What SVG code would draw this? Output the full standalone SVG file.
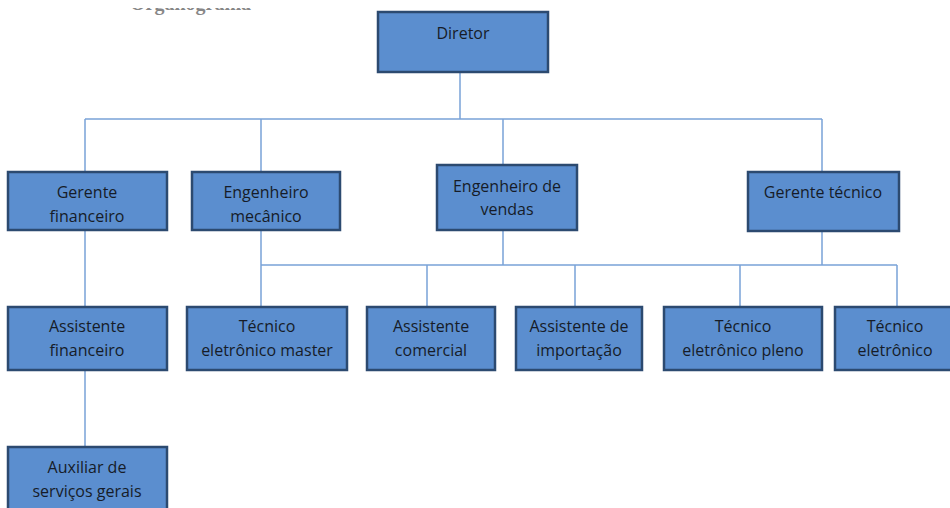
<svg xmlns="http://www.w3.org/2000/svg" width="950" height="508" viewBox="0 0 950 508">
<style>
.box{fill:#5b8ecf;stroke:#2c4a70;stroke-width:2.5}
.t{font-family:"Open Sans","Liberation Sans",Arial,sans-serif;font-size:16px;fill:#161c28;text-anchor:middle}
.c{fill:none;stroke:#7aa3d8;stroke-width:1.5}
</style>
<defs>
<clipPath id="clipTitle"><rect x="100" y="8" width="200" height="12"/></clipPath>
</defs>
<rect width="950" height="508" fill="#ffffff"/>
<text x="130" y="10" clip-path="url(#clipTitle)" font-family="Liberation Serif,serif" font-weight="bold" font-size="20" fill="#555" opacity="0.7">Organograma</text>
<g id="connectors">
<path class="c" d="M460 72V119M85 119H822M85 119V172M261 119V172M503 119V165M822 119V172"/>
<path class="c" d="M85 230V307M85 370V447"/>
<path class="c" d="M261 230V307M261 265H897M503 230V265M822 231V265M427 265V307M575 265V307M740 265V307M897 265V307"/>
</g>
<g id="diretor"><rect class="box" x="378" y="12" width="170" height="60"/><text class="t" x="463" y="39">Diretor</text></g>
<g id="gerente-financeiro"><rect class="box" x="8" y="172" width="159" height="58"/><text class="t" x="87" y="198">Gerente</text><text class="t" x="87" y="222">financeiro</text></g>
<g id="engenheiro-mecanico"><rect class="box" x="192" y="172" width="148" height="58"/><text class="t" x="266" y="198">Engenheiro</text><text class="t" x="266" y="222">mecânico</text></g>
<g id="engenheiro-vendas"><rect class="box" x="437" y="165" width="140" height="65"/><text class="t" x="507" y="192">Engenheiro de</text><text class="t" x="507" y="215">vendas</text></g>
<g id="gerente-tecnico"><rect class="box" x="748" y="172" width="151" height="59"/><text class="t" x="823" y="198">Gerente técnico</text></g>
<g id="assistente-financeiro"><rect class="box" x="8" y="307" width="159" height="63"/><text class="t" x="87" y="332">Assistente</text><text class="t" x="87" y="356">financeiro</text></g>
<g id="tecnico-master"><rect class="box" x="187" y="307" width="160" height="63"/><text class="t" x="267" y="332">Técnico</text><text class="t" x="267" y="356">eletrônico master</text></g>
<g id="assistente-comercial"><rect class="box" x="367" y="307" width="128" height="63"/><text class="t" x="431" y="332">Assistente</text><text class="t" x="431" y="356">comercial</text></g>
<g id="assistente-importacao"><rect class="box" x="516" y="307" width="126" height="63"/><text class="t" x="579" y="332">Assistente de</text><text class="t" x="579" y="356">importação</text></g>
<g id="tecnico-pleno"><rect class="box" x="664" y="307" width="158" height="63"/><text class="t" x="743" y="332">Técnico</text><text class="t" x="743" y="356">eletrônico pleno</text></g>
<g id="tecnico-eletronico"><rect class="box" x="835" y="307" width="122" height="63"/><text class="t" x="895" y="332">Técnico</text><text class="t" x="895" y="356">eletrônico</text></g>
<g id="auxiliar"><rect class="box" x="8" y="447" width="159" height="70"/><text class="t" x="87" y="473">Auxiliar de</text><text class="t" x="87" y="497">serviços gerais</text></g>
</svg>
